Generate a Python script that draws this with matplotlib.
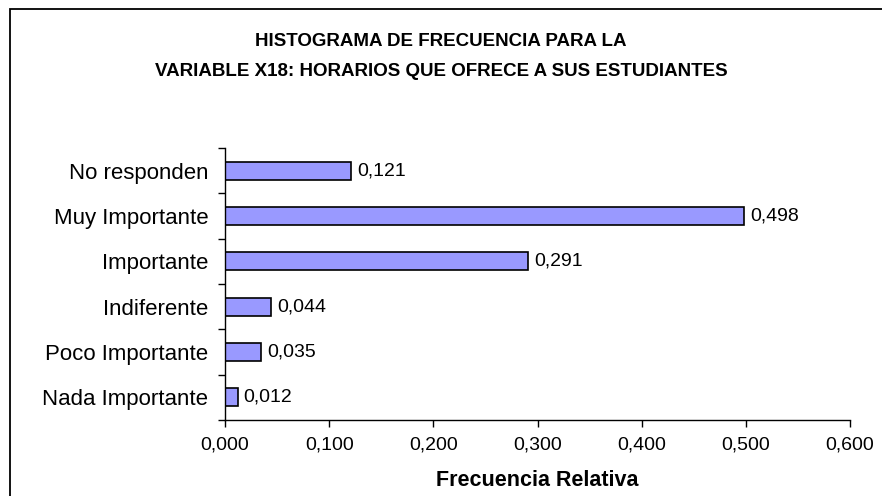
import matplotlib
matplotlib.use("Agg")
import matplotlib.pyplot as plt
from matplotlib.patches import Rectangle
from matplotlib.ticker import FixedLocator, FuncFormatter

plt.rcParams.update({"font.family": ["Liberation Sans", "DejaVu Sans"]})

# datos (de abajo hacia arriba)
categorias = ["Nada Importante", "Poco Importante", "Indiferente",
              "Importante", "Muy Importante", "No responden"]
frecuencias = [0.012, 0.035, 0.044, 0.291, 0.498, 0.121]
ticks_x = [0.0, 0.1, 0.2, 0.3, 0.4, 0.5, 0.6]

fig = plt.figure(figsize=(8.82, 4.96), dpi=100)
ax = fig.add_axes([225 / 882, 1 - 420 / 496, 625 / 882, 272 / 496])

pos = list(range(len(categorias)))
ax.barh(pos, frecuencias, height=0.4, color="#9999FF", edgecolor="black", linewidth=1.2)

# etiquetas de valor
for y, v in zip(pos, frecuencias):
    ax.annotate(f"{v:.3f}".replace(".", ","), (v, y), xytext=(4.5, 0),
                textcoords="offset points", va="center", ha="left", fontsize=14)

ax.set_xlim(0, 0.6)
ax.set_ylim(-0.5, len(categorias) - 0.5)
ax.set_xticks(ticks_x)
ax.xaxis.set_major_formatter(FuncFormatter(lambda v, p: f"{v:.3f}".replace(".", ",")))
ax.set_yticks(pos)
ax.set_yticklabels(categorias)
ax.yaxis.set_minor_locator(FixedLocator([i - 0.5 for i in range(len(categorias) + 1)]))
ax.tick_params(axis="y", which="major", length=0, pad=12, labelsize=16)
ax.tick_params(axis="y", which="minor", length=5, width=1, direction="out")
ax.tick_params(axis="x", length=5, width=1, direction="out", labelsize=14, pad=7)

for s in ["top", "right"]:
    ax.spines[s].set_visible(False)
for s in ["left", "bottom"]:
    ax.spines[s].set_linewidth(1)

ax.set_xlabel("Frecuencia Relativa", fontsize=15.5, fontweight="bold", labelpad=12)

fig.text(0.5, 1 - 42 / 496, "HISTOGRAMA DE FRECUENCIA PARA LA", ha="center", va="center",
         fontsize=13.5, fontweight="bold")
fig.text(0.5, 1 - 72 / 496, "VARIABLE X18: HORARIOS QUE OFRECE A SUS ESTUDIANTES", ha="center",
         va="center", fontsize=13.5, fontweight="bold")

# marco del gráfico
fig.patches.append(Rectangle((10 / 882, -0.1), 1.2, 1 - 9 / 496 + 0.1, transform=fig.transFigure,
                             fill=False, edgecolor="black", linewidth=1.3))

fig.savefig("out.png", dpi=100)
